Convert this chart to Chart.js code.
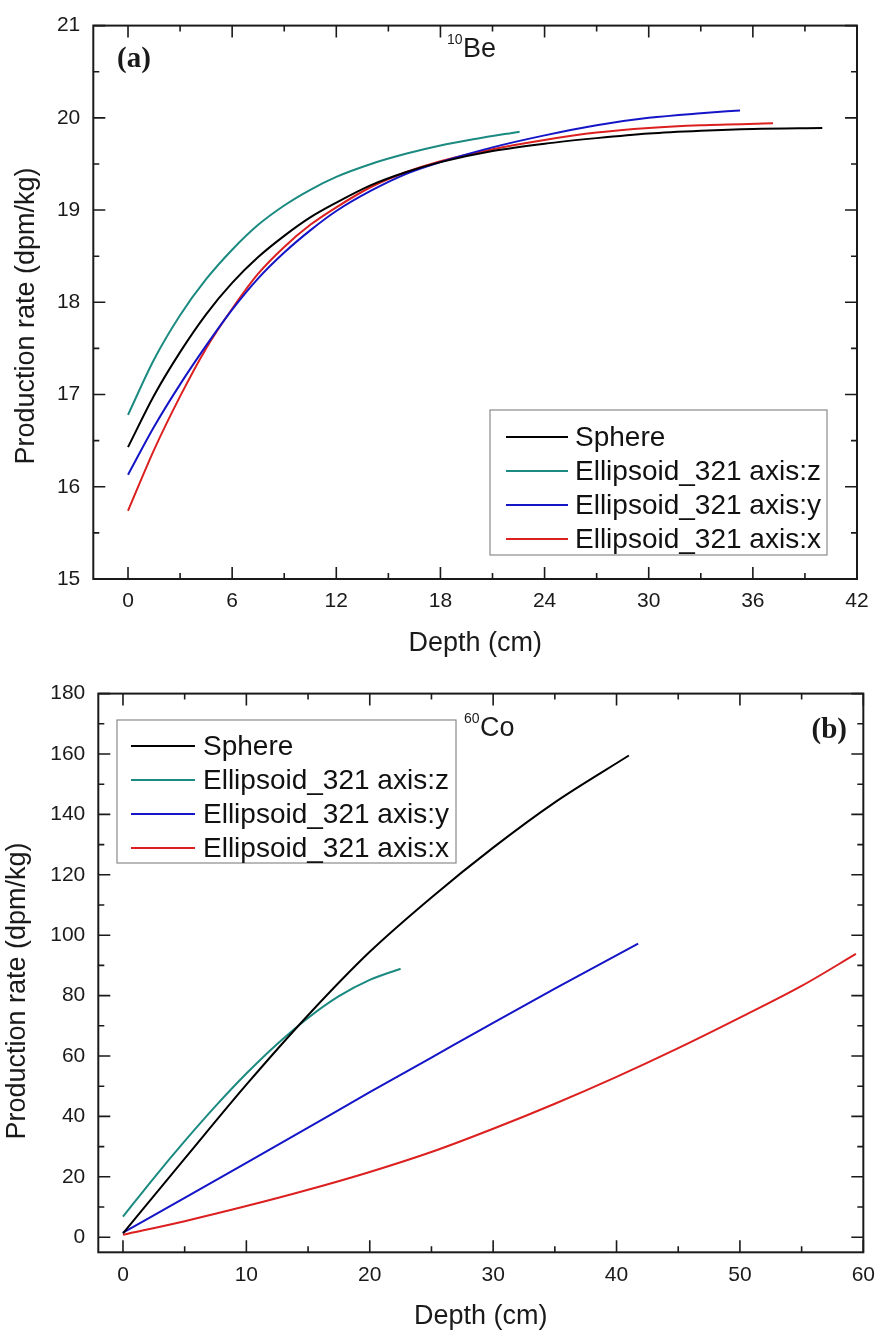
<!DOCTYPE html>
<html>
<head>
<meta charset="utf-8">
<script src="https://cdn.jsdelivr.net/npm/chart.js@4.4.0/dist/chart.umd.min.js"></script>
<style>
  html, body { margin: 0; padding: 0; background: #fff; }
  .panel { position: absolute; left: 0; width: 885px; height: 668px; }
</style>
</head>
<body>
<div class="panel" style="top:0"><canvas id="chartA" width="885" height="668"></canvas></div>
<div class="panel" style="top:668px"><canvas id="chartB" width="885" height="668"></canvas></div>
<script>
const seriesNames = ['Sphere', 'Ellipsoid_321 axis:z', 'Ellipsoid_321 axis:y', 'Ellipsoid_321 axis:x'];
const seriesColors = ['#000000', '#1b8a80', '#1515c8', '#dc2020'];

// (a) 10Be
const depthSphereA = [0, 1.5, 3, 4.5, 6, 7.5, 9, 10.5, 12, 14, 16, 18, 21, 24, 27, 30, 33, 36, 40];
const rateSphereA  = [16.43, 16.99, 17.46, 17.87, 18.21, 18.49, 18.72, 18.92, 19.08, 19.27, 19.41, 19.52, 19.64, 19.72, 19.78, 19.83, 19.86, 19.88, 19.89];
const depthZA = [0, 1.5, 3, 4.5, 6, 7.5, 9, 10.5, 12, 14, 16, 18, 20, 22.56];
const rateZA  = [16.78, 17.38, 17.86, 18.25, 18.57, 18.84, 19.05, 19.22, 19.36, 19.50, 19.61, 19.70, 19.77, 19.85];
const depthYA = [0, 1.5, 3, 4.5, 6, 7.5, 9, 10.5, 12, 14, 16, 18, 21, 24, 27, 30, 33, 35.26];
const rateYA  = [16.13, 16.65, 17.11, 17.53, 17.92, 18.26, 18.54, 18.78, 18.99, 19.21, 19.39, 19.52, 19.68, 19.81, 19.92, 20.00, 20.05, 20.08];
const depthXA = [0, 1.5, 3, 4.5, 6, 7.5, 9, 10.5, 12, 14, 16, 18, 21, 24, 27, 30, 33, 37.16];
const rateXA  = [15.74, 16.40, 16.98, 17.50, 17.93, 18.31, 18.60, 18.84, 19.03, 19.25, 19.41, 19.53, 19.66, 19.76, 19.84, 19.89, 19.92, 19.94];

const xTicksA = [0, 6, 12, 18, 24, 30, 36, 42];
const xMinorA = [3, 9, 15, 21, 27, 33, 39];
const yTicksA = [15, 16, 17, 18, 19, 20, 21];
const yMinorA = [15.5, 16.5, 17.5, 18.5, 19.5, 20.5];

// (b) 60Co
const depthSphereB = [0, 5, 10, 15, 20, 25, 30, 35, 41];
const rateSphereB  = [1.3, 26, 50.5, 73.5, 94.5, 112.5, 129, 144, 159.5];
const depthZB = [0, 2.5, 5, 7.5, 10, 12.5, 15, 17.5, 20, 22.5];
const rateZB  = [6.8, 19.6, 31.8, 43.4, 54.2, 64, 72.6, 79.8, 85.2, 88.9];
const depthYB = [0, 5, 10, 15, 20, 25, 30, 35, 41.75];
const rateYB  = [1.5, 13, 24.6, 36.3, 48, 59.5, 71, 82.3, 97.2];
const depthXB = [0, 5, 10, 15, 20, 25.4, 30, 35, 40, 45, 50, 55, 59.4];
const rateXB  = [0.8, 5.3, 10.3, 15.7, 21.6, 28.8, 35.9, 44.2, 53.1, 62.6, 72.7, 83.2, 93.8];

const xTicksB = [0, 10, 20, 30, 40, 50, 60];
const xMinorB = [5, 15, 25, 35, 45, 55];
const yTicksB = [0, 20, 40, 60, 80, 100, 120, 140, 160, 180];
const yMinorB = [10, 30, 50, 70, 90, 110, 130, 150, 170];

Chart.defaults.font.family = "'Liberation Sans', Arial, sans-serif";
Chart.defaults.color = '#1a1a1a';

const pts = (xs, ys) => xs.map((x, i) => ({ x: x, y: ys[i] }));

function datasets(pairs) {
  return pairs.map((p, i) => ({
    label: seriesNames[i],
    data: pts(p[0], p[1]),
    borderColor: seriesColors[i],
    backgroundColor: seriesColors[i],
    borderWidth: 2,
    pointRadius: 0,
    cubicInterpolationMode: 'monotone',
    fill: false
  }));
}

function axis(min, max, major, fitFn, padding) {
  return {
    type: 'linear', min: min, max: max,
    afterBuildTicks: s => { s.ticks = major.map(v => ({ value: v })); },
    afterFit: fitFn,
    grid: { display: false, drawTicks: false },
    border: { display: false },
    ticks: { padding: padding, autoSkip: false, maxRotation: 0, font: { size: 21 }, color: '#1a1a1a' }
  };
}

function decor(cfg) {
  return {
    id: 'decor',
    afterDraw(chart) {
      const { ctx, chartArea: a } = chart;
      const xs = chart.scales.x, ys = chart.scales.y;
      ctx.save();
      ctx.strokeStyle = '#1a1a1a';
      ctx.lineWidth = 1.6;
      const xMarks = (vals, len) => vals.forEach(v => {
        const p = xs.getPixelForValue(v);
        ctx.beginPath();
        ctx.moveTo(p, a.bottom); ctx.lineTo(p, a.bottom - len);
        ctx.moveTo(p, a.top); ctx.lineTo(p, a.top + len);
        ctx.stroke();
      });
      const yMarks = (vals, len) => vals.forEach(v => {
        const p = ys.getPixelForValue(v);
        ctx.beginPath();
        ctx.moveTo(a.left, p); ctx.lineTo(a.left + len, p);
        ctx.moveTo(a.right, p); ctx.lineTo(a.right - len, p);
        ctx.stroke();
      });
      xMarks(cfg.xMajor, 12); xMarks(cfg.xMinor, 6);
      yMarks(cfg.yMajor, 12); yMarks(cfg.yMinor, 6);
      ctx.lineWidth = 2;
      ctx.strokeRect(a.left, a.top, a.right - a.left, a.bottom - a.top);

      // axis titles
      ctx.fillStyle = '#1a1a1a';
      ctx.font = "27px 'Liberation Sans', Arial, sans-serif";
      ctx.textAlign = 'center';
      ctx.textBaseline = 'middle';
      ctx.fillText('Depth (cm)', (a.left + a.right) / 2, cfg.xTitleY);
      ctx.save();
      ctx.translate(cfg.yTitleX, cfg.yTitleY);
      ctx.rotate(-Math.PI / 2);
      ctx.fillText('Production rate (dpm/kg)', 0, 0);
      ctx.restore();

      // panel letter
      ctx.textBaseline = 'alphabetic';
      ctx.font = "bold 29px 'Liberation Serif', 'Times New Roman', serif";
      ctx.textAlign = cfg.panelAlign;
      ctx.fillText(cfg.panel, cfg.panelX, cfg.panelY);

      // isotope
      ctx.textAlign = 'left';
      ctx.font = "14px 'Liberation Sans', Arial, sans-serif";
      ctx.fillText(cfg.isoMass, cfg.isoX, cfg.isoY - 13);
      ctx.font = "27px 'Liberation Sans', Arial, sans-serif";
      ctx.fillText(cfg.isoName, cfg.isoX + 16, cfg.isoY);

      // legend
      const L = cfg.legend;
      ctx.strokeStyle = '#8a8a8a';
      ctx.lineWidth = 1.2;
      ctx.strokeRect(L.x, L.y, L.w, L.h);
      ctx.font = "28px 'Liberation Sans', Arial, sans-serif";
      ctx.textBaseline = 'middle';
      chart.data.datasets.forEach((d, i) => {
        const ry = L.y + L.first + i * 34;
        ctx.strokeStyle = d.borderColor;
        ctx.lineWidth = 2;
        ctx.beginPath();
        ctx.moveTo(L.x + L.line0, ry); ctx.lineTo(L.x + L.line1, ry);
        ctx.stroke();
        ctx.fillStyle = '#111';
        ctx.fillText(d.label, L.x + L.text, ry + 1);
      });
      ctx.restore();
    }
  };
}

new Chart(document.getElementById('chartA'), {
  type: 'line',
  data: { datasets: datasets([[depthSphereA, rateSphereA], [depthZA, rateZA], [depthYA, rateYA], [depthXA, rateXA]]) },
  options: {
    responsive: false, animation: false,
    layout: { padding: { top: 17, right: 28, left: 0, bottom: 0 } },
    plugins: { legend: { display: false }, tooltip: { enabled: false } },
    scales: {
      x: axis(-2, 42, xTicksA, s => { s.height = 89; }, 10),
      y: axis(15, 21, yTicksA, s => { s.width = 93.3; }, 13)
    }
  },
  plugins: [decor({
    xMajor: xTicksA, xMinor: xMinorA, yMajor: yTicksA, yMinor: yMinorA,
    xTitleY: 644, yTitleX: 27, yTitleY: 316,
    panel: '(a)', panelAlign: 'left', panelX: 117, panelY: 67,
    isoMass: '10', isoName: 'Be', isoX: 447, isoY: 57,
    legend: { x: 490, y: 410, w: 337, h: 145, first: 27, line0: 16, line1: 78, text: 85 }
  })]
});

new Chart(document.getElementById('chartB'), {
  type: 'line',
  data: { datasets: datasets([[depthSphereB, rateSphereB], [depthZB, rateZB], [depthYB, rateYB], [depthXB, rateXB]]) },
  options: {
    responsive: false, animation: false,
    layout: { padding: { top: 22.7, right: 14.3, left: 0, bottom: 0 } },
    plugins: { legend: { display: false }, tooltip: { enabled: false } },
    scales: {
      x: axis(-2, 60, xTicksB, s => { s.height = 83.7; }, 10),
      y: axis(-5, 180, yTicksB, s => { s.width = 98.3; }, 13)
    }
  },
  plugins: [decor({
    xMajor: xTicksB, xMinor: xMinorB, yMajor: yTicksB, yMinor: yMinorB,
    xTitleY: 649, yTitleX: 18, yTitleY: 323,
    panel: '(b)', panelAlign: 'right', panelX: 847, panelY: 70,
    isoMass: '60', isoName: 'Co', isoX: 464, isoY: 68,
    legend: { x: 117, y: 52, w: 339, h: 143, first: 26, line0: 14, line1: 78, text: 86 }
  })]
});
</script>
</body>
</html>
